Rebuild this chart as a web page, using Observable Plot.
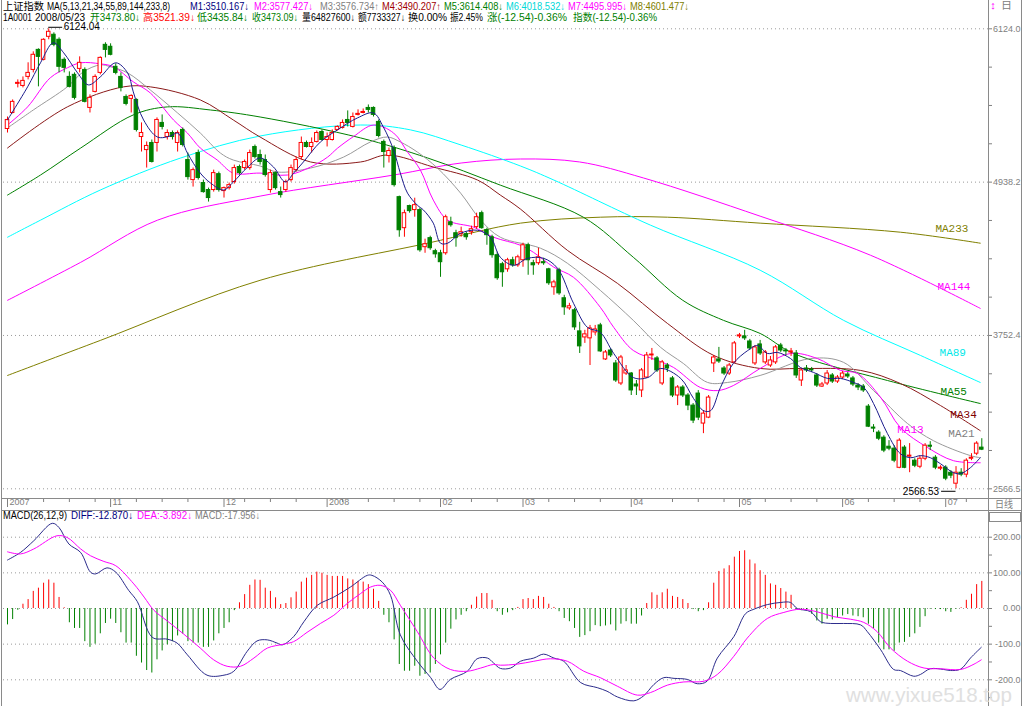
<!DOCTYPE html>
<html><head><meta charset="utf-8">
<script src="https://cdn.jsdelivr.net/npm/d3@7"></script>
<script src="https://cdn.jsdelivr.net/npm/@observablehq/plot@0.6"></script>
<style>
body{margin:0;background:#fff;}
#wrap{position:relative;width:1024px;height:706px;overflow:hidden;background:#fff;font-family:"Liberation Sans","Noto Sans CJK SC",sans-serif;}
#wrap svg{position:absolute;left:0;}
.t{position:absolute;font-size:10px;line-height:11px;white-space:nowrap;z-index:5;transform-origin:0 0;}
.ln{position:absolute;background:#8a8a8a;z-index:4;}
</style></head><body><div id="wrap">
<div class="ln" style="left:1px;top:0;width:1px;height:706px"></div>
<div class="ln" style="left:988px;top:0;width:1px;height:706px"></div>
<div class="ln" style="left:1021px;top:0;width:1px;height:706px"></div>
<div class="ln" style="left:1px;top:498px;width:1021px;height:1px"></div>
<div class="ln" style="left:1px;top:510px;width:1021px;height:1px"></div>
<div style="position:absolute;left:989px;top:512px;width:30px;height:8px;border:1px solid #8a8a8a;z-index:4"></div>
</div>
<script>
// ---- daily candles (trading-day index 0..189) ----
const opens = [5349,5473,5698,5682,5752,5806,5961,5884,6062,6078,
6039,5884,5752,5768,5814,5806,5512,5636,5783,6000,
5985,5830,5752,5597,5582,5574,5287,5186,5241,5241,
5396,5287,5318,5241,5342,5109,4954,5163,4931,4877,
4877,5000,4869,4892,4939,5055,5047,5047,5210,5148,
5109,4877,5008,4861,4877,4954,5031,5132,5241,5210,
5249,5326,5264,5264,5342,5357,5419,5365,5458,5473,
5512,5512,5404,5249,5140,5202,4822,4582,4753,4722,
4722,4435,4505,4404,4388,4388,4628,4543,4536,4536,
4551,4590,4698,4567,4512,4373,4303,4264,4334,4295,
4334,4450,4311,4311,4319,4264,4125,4257,4040,3962,
3947,3784,3737,3730,3776,3830,3567,3636,3536,3381,
3458,3458,3373,3327,3427,3598,3575,3381,3520,3420,
3288,3350,3288,3210,3303,3071,3117,3536,3567,3497,
3458,3544,3745,3745,3706,3536,3683,3544,3520,3544,
3675,3636,3621,3613,3404,3497,3489,3443,3357,3381,
3443,3396,3427,3450,3420,3365,3357,3202,3040,3001,
2962,2892,2877,2729,2885,2815,2784,2737,2799,2900,
2807,2722,2730,2691,2606,2691,2676,2799,2838,2885];
const highs = [5442,5574,5729,5752,5861,5946,5969,6047,6124.04,6093,
6054,5899,5791,5783,5907,5822,5613,5768,5907,6016,
6008,5853,5783,5613,5613,5582,5396,5249,5264,5435,
5458,5342,5334,5334,5357,5163,5047,5186,4954,4892,
5031,5016,4900,4931,5070,5070,5109,5186,5225,5186,
5148,5031,5016,4900,4954,5070,5132,5287,5256,5280,
5334,5342,5318,5342,5373,5419,5489,5473,5497,5504,
5535,5520,5419,5264,5202,5218,4830,4722,4760,4814,
4737,4497,4520,4419,4411,4683,4667,4566,4590,4551,
4598,4698,4714,4582,4528,4396,4318,4349,4357,4373,
4466,4466,4334,4427,4349,4272,4179,4272,4063,4001,
3962,3854,3792,3830,3830,3846,3636,3652,3559,3598,
3520,3466,3404,3497,3621,3652,3590,3559,3536,3435,
3365,3365,3303,3226,3326,3172,3288,3598,3660,3512,
3536,3706,3768,3792,3722,3675,3714,3636,3590,3675,
3691,3652,3652,3636,3497,3520,3505,3458,3389,3481,
3458,3443,3474,3466,3435,3381,3373,3218,3063,3016,
2977,2939,2900,2954,2900,2916,2799,2823,2916,2931,
2823,2745,2745,2707,2738,2722,2799,2838,2931,2954];
const lows = [5318,5466,5667,5667,5729,5783,5675,5876,6039,5985,
5783,5783,5667,5574,5783,5551,5473,5628,5768,5899,
5915,5768,5636,5528,5473,5326,5171,5047,5086,5171,
5342,5264,5264,5171,5210,4954,4900,4954,4853,4784,
4861,4861,4815,4877,4923,4993,5031,5031,5117,5070,
4977,4853,4877,4815,4861,4939,5016,5109,5202,5163,
5241,5256,5210,5256,5334,5349,5365,5357,5450,5466,
5473,5442,5280,5047,5086,4900,4512,4512,4698,4667,
4396,4388,4411,4350,4202,4373,4590,4435,4512,4489,
4528,4574,4574,4450,4350,4179,4125,4241,4280,4280,
4280,4218,4218,4295,4295,4140,4063,4063,3908,3947,
3792,3613,3691,3520,3753,3621,3559,3582,3389,3365,
3443,3288,3288,3272,3420,3559,3466,3365,3466,3272,
3210,3272,3171,3071,3094,2993,3109,3466,3536,3443,
3443,3536,3729,3714,3636,3520,3598,3528,3505,3528,
3621,3598,3590,3420,3358,3466,3466,3350,3350,3365,
3381,3381,3412,3420,3357,3326,3311,3040,3001,2939,
2846,2861,2768,2722,2722,2691,2730,2722,2784,2862,
2714,2707,2629,2645,2566.53,2660,2652,2784,2823,2862];
const closes = [5419,5559,5706,5721,5783,5923,5907,6039,6101,6000,
5830,5822,5675,5590,5861,5559,5590,5752,5899,5961,
5923,5783,5667,5543,5605,5342,5318,5218,5094,5419,
5365,5318,5287,5318,5225,4977,5031,4970,4861,4815,
5008,4877,4892,4915,5047,5008,5094,5163,5132,5094,
4993,5008,4892,4838,4939,5047,5109,5241,5210,5241,
5318,5264,5287,5318,5365,5396,5396,5442,5466,5481,
5497,5458,5295,5171,5179,4915,4566,4698,4714,4760,
4411,4458,4427,4380,4319,4667,4605,4505,4551,4512,
4574,4667,4582,4528,4373,4195,4241,4334,4295,4357,
4450,4334,4295,4357,4311,4156,4163,4078,3970,3978,
3815,3668,3761,3807,3799,3629,3621,3598,3404,3582,
3482,3327,3358,3482,3598,3605,3482,3544,3497,3288,
3350,3288,3210,3094,3117,3148,3272,3582,3551,3458,
3520,3691,3753,3730,3652,3660,3613,3621,3559,3660,
3636,3629,3629,3443,3482,3482,3482,3365,3373,3458,
3396,3427,3458,3435,3373,3350,3327,3047,3032,2954,
2862,2877,2784,2939,2729,2823,2745,2799,2900,2892,
2730,2730,2645,2668,2691,2676,2784,2807,2916,2869];

// ---- moving averages: [day index, value] ----
const ma5 = [[0,5419],[3.9,5675],[6.4,5861],[8.9,6016],[10.9,5938],[13.6,5783],[15.7,5690],[18,5752],[21,5861],[23.3,5783],[24.4,5636],[26.4,5419],[29.1,5287],[31.6,5295],[33,5318],[34.9,5163],[37.4,5008],[39.4,4931],[41.9,4877],[43.8,4939],[46.6,5055],[49,5125],[51.6,5055],[53.9,4939],[55.5,5008],[57.4,5094],[60.7,5249],[64,5342],[67.9,5435],[71,5473],[72.9,5365],[74.9,5186],[76.2,5008],[77.6,4853],[79.5,4760],[80.7,4722],[82.6,4621],[84,4466],[85.4,4466],[87.9,4543],[91.2,4566],[93.7,4512],[95.6,4357],[98.2,4295],[100.9,4349],[104,4349],[106.7,4272],[109.8,4001],[112.5,3815],[115,3776],[117.6,3613],[121.4,3427],[124.2,3427],[126.7,3497],[130.6,3420],[133.1,3264],[135,3171],[136.4,3171],[138.3,3350],[140.8,3536],[143.6,3636],[145.5,3675],[147.4,3613],[149.4,3621],[151.9,3574],[153.8,3505],[156.4,3466],[159.1,3420],[161.6,3420],[164.1,3389],[166.1,3350],[168,3226],[170.7,2993],[173.2,2838],[175.2,2807],[177.1,2823],[179,2807],[181,2760],[183.5,2691],[184.9,2684],[186.8,2730],[188.7,2807]];
const ma13 = [[0,5380],[3.9,5520],[8.3,5745],[11.6,5822],[14.2,5861],[18,5853],[20.6,5830],[24.4,5714],[27.7,5628],[32.2,5419],[34.9,5318],[37.4,5202],[40.7,5109],[43.8,5008],[49,5008],[54.3,4993],[58.8,5055],[62.1,5132],[64,5200],[67.1,5290],[71,5380],[74.9,5318],[77.6,5171],[80.1,5031],[82.6,4799],[85.4,4644],[90.4,4590],[94.3,4512],[99.5,4450],[102,4396],[106,4280],[109.8,4202],[115,3970],[117.6,3815],[121.4,3636],[126.1,3559],[129.2,3505],[134.4,3350],[137.7,3326],[140.8,3365],[146,3497],[151.9,3613],[157.1,3574],[161.6,3482],[164.9,3458],[169.4,3272],[173.2,3040],[178.5,2885],[183.5,2784],[188.7,2768]];
const ma21 = [[0,5357],[5,5496],[11.6,5675],[14.7,5791],[18,5845],[20,5830],[23.3,5783],[27.7,5651],[33,5473],[37.4,5318],[41.3,5163],[43.8,5109],[49,5063],[52.4,5016],[58.8,5047],[65.2,5132],[70.4,5249],[73.7,5287],[76.2,5249],[79.5,5171],[83.4,5047],[87.9,4853],[91.8,4644],[95.6,4512],[103.4,4427],[108.6,4311],[115,4101],[121.4,3869],[126.7,3660],[131.1,3536],[135.8,3389],[139.7,3389],[146,3443],[155.8,3574],[162.2,3544],[168,3326],[174.6,3071],[179.6,2939],[186.8,2823],[188.7,2807]];
const ma34 = [[0,5202],[11.6,5520],[22.5,5675],[27.7,5675],[37.4,5574],[43.8,5419],[49,5287],[58.8,5094],[68.5,5094],[73.7,5148],[82.6,5055],[91.2,4954],[95.6,4838],[99.5,4730],[108.6,4411],[118.3,4156],[128,3846],[137,3598],[146,3497],[153.8,3497],[165.5,3482],[173.2,3381],[181,3210],[188.7,3016]];
const ma55 = [[0,4838],[6.4,4993],[14.2,5202],[24.4,5458],[31,5520],[39.4,5496],[49,5442],[68.5,5280],[81.5,5125],[95.6,4915],[111.7,4667],[121.4,4357],[131,4024],[138.9,3869],[146,3768],[152.5,3613],[170.7,3404],[188.7,3226]];
const ma89 = [[0,4512],[6.4,4644],[18,4877],[33.6,5125],[49,5295],[68.5,5380],[78.2,5342],[88,5225],[99.5,5063],[106,4954],[124.7,4606],[146,4257],[162.2,3869],[177.1,3598],[188.7,3389]];
const ma144 = [[0,4024],[14.2,4318],[29.1,4644],[49,4830],[74.9,4993],[88,5086],[99.5,5117],[111,5094],[123.4,4970],[146,4675],[167.4,4373],[188.7,3962]];
const ma233 = [[0,3443],[18,3714],[49,4179],[81.5,4466],[99.5,4621],[115,4667],[128,4667],[146,4621],[173.2,4551],[188.7,4466]];

// ---- MACD(26,12,9) ----
const macdBars = [-46,-31,-5,12,25,48,57,71,80,71,31,2,-40,-56,-56,-93,-109,-100,-71,-42,
-30,-42,-68,-97,-97,-134,-153,-174,-181,-144,-119,-102,-93,-77,-72,-93,-97,-97,-109,-109,
-91,-71,-56,-40,-6,16,39,65,80,79,57,48,30,11,14,30,46,74,85,93,
102,99,93,90,90,90,83,80,76,74,67,54,20,-19,-40,-88,-157,-176,-176,-162,
-190,-185,-181,-157,-130,-97,-58,-32,-19,-9,9,32,42,42,23,-9,-19,-12,-6,3,
25,28,25,34,31,12,3,-9,-28,-37,-56,-81,-76,-65,-48,-51,-49,-46,-63,-44,
-37,-44,-44,-21,14,44,37,44,54,34,31,25,14,-3,-9,-6,16,71,104,111,
120,144,160,162,136,125,106,93,69,65,56,46,37,-3,-6,-3,-16,-35,-44,-30,
-32,-26,-21,-17,-21,-23,-26,-44,-56,-97,-116,-116,-120,-97,-95,-81,-71,-53,-23,-2,
-3,-3,-9,-11,-2,2,23,40,67,76];
const diffLine = [[0,136],[2.5,157],[5.1,190],[8.7,239],[10,227],[11.9,181],[14.2,157],[16.1,102],[17.1,97],[19.3,114],[21,102],[23.5,51],[25.2,19],[28.1,-81],[31,-86],[32.9,-97],[34.9,-130],[38.7,-187],[42,-187],[43.9,-176],[46.5,-120],[48.4,-91],[50.4,-88],[52.3,-97],[53.3,-102],[55.5,-79],[57.5,-37],[60.1,9],[63.3,32],[66.5,60],[69.8,93],[70.7,93],[72.7,74],[74.3,37],[76.2,-74],[79.5,-148],[82.1,-194],[83.9,-227],[85.9,-199],[89.2,-176],[91.1,-141],[93.1,-139],[94.3,-153],[95.6,-168],[97.6,-167],[99.5,-148],[102.1,-139],[104,-128],[106,-139],[107.9,-148],[111.2,-208],[114.4,-222],[116.3,-232],[118.3,-248],[121.5,-259],[123.4,-245],[125.4,-213],[127.3,-194],[129.3,-196],[131.9,-199],[133.8,-211],[135.7,-204],[137.7,-139],[140.9,-79],[143.2,-14],[144.8,-2],[147.4,11],[150,17],[151.9,17],[153.2,0],[155.8,-9],[157.7,-37],[159.7,-42],[162.2,-42],[165.5,-46],[166.8,-65],[169.4,-116],[171.9,-171],[173.2,-174],[175.8,-190],[177.1,-185],[179,-169],[181.6,-171],[182.9,-174],[184.9,-170],[186.8,-139],[188.9,-109]];
const deaLine = [[0,159],[2.5,153],[5.1,167],[9.6,204],[11.6,199],[14.2,167],[16.1,148],[18.7,132],[21,120],[24.5,69],[26.5,32],[28.4,-5],[31,-35],[34.2,-72],[37.4,-111],[40,-144],[42.6,-162],[45.2,-162],[47.8,-139],[50.4,-111],[53.6,-100],[55.5,-93],[58.1,-67],[60.7,-42],[63.3,-19],[65.9,14],[68.5,42],[70.4,60],[72.3,65],[74.3,51],[76.2,9],[79.5,-65],[82.7,-139],[85.9,-171],[89.2,-176],[91.8,-167],[94.3,-157],[95.6,-159],[98.9,-156],[102.1,-148],[105.3,-141],[108.6,-148],[111.8,-176],[115,-194],[118.3,-218],[122.2,-243],[124.7,-236],[128,-215],[131.2,-206],[135.1,-204],[137.7,-185],[140.9,-134],[143.5,-83],[147.4,-28],[150.6,-11],[153.8,-2],[157,-9],[160.3,-23],[163.5,-30],[166.1,-39],[168.7,-65],[171.3,-111],[174.6,-148],[177.8,-167],[181,-169],[184.9,-171],[187.5,-156],[188.9,-144]];

// ---- axes ----
const monthIdx = [0,20,42,62,84,100,121,142,162,182];
const monthLabels = ["2007","11","12","2008","02","03","04","05","06","07"];
const weekIdx = [7,12,17,25,30,35,46,51,56,65,70,75,80,90,95,105,110,115,129,134,139,147,152,157,167,172,177,186];
const priceLabels = [6124.0,4938.2,3752.4,2566.5];
const priceMinor = [2566.5,2862.9,3159.4,3455.9,3752.4,4048.8,4345.3,4641.7,4938.2,5234.7,5531.1,5827.6,6124.0];
const macdLabelVals = [200,100,0,-100,-200];
const macdLabelText = ["200.00","100.00","0.00","-100.0","-200.0"];
const macdMinor = [200,150,100,50,0,-50,-100,-150,-200,-250];
const maLabels = [
  {i:180.0, v:4582, t:"MA233", c:"#808000"},
  {i:180.4, v:4133, t:"MA144", c:"#ff00ff"},
  {i:180.8, v:3617, t:"MA89", c:"#00e8e8"},
  {i:181.0, v:3323, t:"MA55", c:"#008000"},
  {i:182.9, v:3144, t:"MA34", c:"#800000"},
  {i:182.5, v:2997, t:"MA21", c:"#808080"},
  {i:172.6, v:3024, t:"MA13", c:"#ff00ff"}
];

// ---- header texts: [left, right, text, colour] ----
const header1 = [
  [3,44,"上证指数","#000"],[47,170,"MA(5,13,21,34,55,89,144,233,8)","#000"],
  [190,249,"M1:3510.167↓","#000080"],[254,313,"M2:3577.427↓","#ff00ff"],
  [320,379,"M3:3576.734↑","#808080"],[382,441,"M4:3490.207↑","#a00000"],
  [444,503,"M5:3614.408↓","#008000"],[506,565,"M6:4018.532↓","#00d8d8"],
  [568,627,"M7:4495.995↓","#ff00ff"],[630,689,"M8:4601.477↓","#808000"]];
const header2 = [
  [3,32,"1A0001","#000"],[35,85,"2008/05/23","#000"],[90,140,"开3473.80↓","#008000"],
  [143,195,"高3521.39↓","#ff0000"],[197,248,"低3435.84↓","#008000"],[252,298,"收3473.09↓","#008000"],
  [302,355,"量64827600↓","#000"],[358,405,"额7733327↓","#000"],[408,447,"换0.00%","#000"],
  [450,483,"振2.45%","#000"],[487,567,"涨(-12.54)-0.36%","#008000"],[573,657,"指数(-12.54)-0.36%","#008000"]];
const header3 = [
  [3,67,"MACD(26,12,9)","#000"],[71,133,"DIFF:-12.870↓","#000080"],
  [137,192,"DEA:-3.892↓","#ff00ff"],[195,260,"MACD:-17.956↓","#808080"]];
// [left, right, text, colour, top, font size, line height]
const extras = [
  [995,1013,"日线","#808080",500,10,10],
  [990,996,"↕","#ff00ff",0,11,11],
  [1001,1012,"日","#808080",1,10,10],
  [846,1012,"www.yixue518.top","#e0e0e0",686,21,18]];

const wrap = document.getElementById("wrap");
function fitText(left, right, text, color, top, size, lh) {
  const s = document.createElement("span");
  s.className = "t";
  s.textContent = text;
  s.style.left = left + "px"; s.style.top = top + "px"; s.style.color = color;
  if (size) { s.style.fontSize = size + "px"; s.style.lineHeight = (lh || size) + "px"; }
  wrap.appendChild(s);
  const w = s.getBoundingClientRect().width;
  if (w > 0) s.style.transform = `scaleX(${(right - left) / w})`;
  return s;
}

const RED = "#ff0000", GREEN = "#008000";
const N = closes.length;
const candles = d3.range(N).map(i => ({i, o: opens[i], h: highs[i], l: lows[i], c: closes[i]}));
const up = d => d.c >= d.o;
const peakI = highs.indexOf(d3.max(highs));
const lowI = lows.indexOf(d3.min(lows));
const xs = {domain: [0, N - 1], range: [7, 981.3], axis: null, label: null};
const dotted = {stroke: "#9a9a9a", strokeDasharray: "1,3"};
const lineOpts = (c) => ({stroke: c, strokeWidth: 1, curve: "catmull-rom"});

const main = Plot.plot({
  width: 1024, height: 511,
  marginLeft: 3, marginRight: 36, marginTop: 0, marginBottom: 13,
  x: xs,
  y: {domain: [2566.5, 6124.0], range: [488.3, 28.3], axis: null, label: null},
  style: {background: "transparent", overflow: "visible", fontFamily: "Liberation Sans, sans-serif"},
  marks: [
    Plot.ruleY(priceLabels, dotted),
    Plot.line(ma233, lineOpts("#808000")),
    Plot.line(ma144, lineOpts("#ff00ff")),
    Plot.line(ma89, lineOpts("#00ffff")),
    Plot.line(ma55, lineOpts("#008000")),
    Plot.line(ma34, lineOpts("#8b1a1a")),
    Plot.line(ma21, lineOpts("#9a9a9a")),
    Plot.line(ma13, lineOpts("#ff00ff")),
    Plot.ruleX(candles, {x: "i", y1: "l", y2: "h", stroke: d => up(d) ? RED : GREEN}),
    Plot.rect(candles, {x1: d => d.i - 0.34, x2: d => d.i + 0.34, y1: "o", y2: "c",
      fill: d => up(d) ? "#fff" : GREEN, stroke: d => up(d) ? RED : GREEN}),
    Plot.line(ma5, lineOpts("#1c1c8c")),
    Plot.text(maLabels, {x: "i", y: "v", text: "t", fill: "c", textAnchor: "start",
      fontFamily: "Liberation Mono, monospace", fontSize: 11}),
    Plot.ruleY([highs[peakI]], {x1: peakI, x2: peakI + 2.7, dy: -1.5, stroke: "#000"}),
    Plot.text([highs[peakI]], {x: peakI, y: d => d, text: d => d.toFixed(2), dx: 15, dy: -2,
      textAnchor: "start", fill: "#000", fontSize: 10}),
    Plot.ruleY([lows[lowI]], {x1: lowI - 2.8, x2: lowI, dy: 2.5, stroke: "#000"}),
    Plot.text([lows[lowI]], {x: lowI, y: d => d, text: d => d.toFixed(2), dx: -17, dy: 3,
      textAnchor: "end", fill: "#000", fontSize: 10}),
    Plot.axisY(priceMinor, {anchor: "right", tickSize: 3, tickFormat: () => "", stroke: "#808080", label: null}),
    Plot.text(priceLabels, {y: d => d, text: d => d.toFixed(1), frameAnchor: "right", dx: 32,
      textAnchor: "end", fill: "#808080", fontSize: 9}),
    Plot.axisX(monthIdx, {anchor: "bottom", tickSize: 9, tickFormat: () => "", stroke: "#808080", label: null}),
    Plot.axisX(weekIdx, {anchor: "bottom", tickSize: 4, tickFormat: () => "", stroke: "#808080", label: null}),
    Plot.text(monthIdx, {x: d => d, text: (d, i) => monthLabels[i], frameAnchor: "bottom", dy: 6.5, dx: 2,
      textAnchor: "start", fill: "#808080", fontSize: 9})
  ]
});
main.style.top = "0px";
wrap.appendChild(main);

const hist = macdBars.map((v, i) => ({i, v}));
const macd = Plot.plot({
  width: 1024, height: 186,
  marginLeft: 3, marginRight: 36, marginTop: 0, marginBottom: 0,
  x: xs,
  y: {domain: [-200, 200], range: [159.3, 16.7], axis: null, label: null},
  style: {background: "transparent", overflow: "visible", fontFamily: "Liberation Sans, sans-serif"},
  marks: [
    Plot.ruleY(macdLabelVals, dotted),
    Plot.ruleX(hist, {x: "i", y1: 0, y2: "v", stroke: d => d.v >= 0 ? RED : GREEN}),
    Plot.line(diffLine, lineOpts("#2c2c8c")),
    Plot.line(deaLine, lineOpts("#ff00ff")),
    Plot.axisY(macdMinor, {anchor: "right", tickSize: 3, tickFormat: () => "", stroke: "#808080", label: null}),
    Plot.text(macdLabelVals, {y: d => d, text: (d, i) => macdLabelText[i], frameAnchor: "right", dx: 32,
      textAnchor: "end", fill: "#808080", fontSize: 9})
  ]
});
macd.style.top = "520px";
wrap.appendChild(macd);

header1.forEach(([l, r, t, c]) => fitText(l, r, t, c, 1));
header2.forEach(([l, r, t, c]) => fitText(l, r, t, c, 12));
header3.forEach(([l, r, t, c]) => fitText(l, r, t, c, 510));
extras.forEach(([l, r, t, c, top, sz, lh]) => fitText(l, r, t, c, top, sz, lh));
</script>
</body></html>
